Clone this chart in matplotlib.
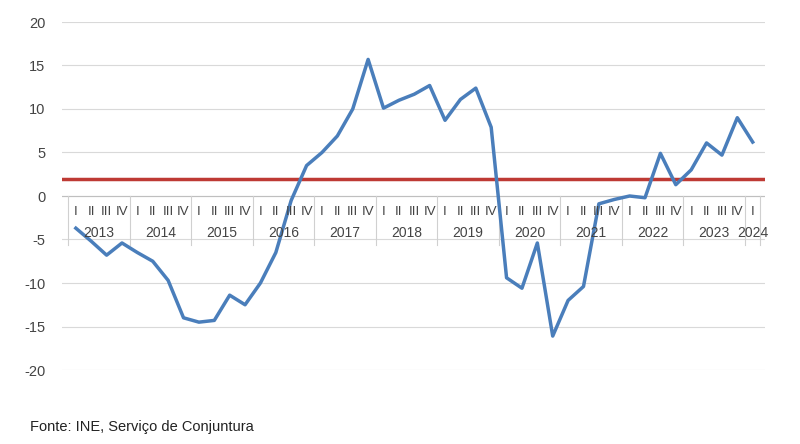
import matplotlib.pyplot as plt

plt.rcParams['font.family'] = ['Liberation Sans', 'DejaVu Sans']
plt.rcParams['axes.unicode_minus'] = False

years = list(range(2013, 2025))
quarters = ['I', 'II', 'III', 'IV']
values = [
    -3.7, -5.2, -6.8, -5.4,      # 2013
    -6.5, -7.5, -9.7, -14.0,     # 2014
    -14.5, -14.3, -11.4, -12.5,  # 2015
    -10.0, -6.5, -0.5, 3.5,      # 2016
    5.0, 6.9, 10.0, 15.7,        # 2017
    10.1, 11.0, 11.7, 12.7,      # 2018
    8.7, 11.1, 12.4, 7.9,        # 2019
    -9.4, -10.6, -5.4, -16.1,    # 2020
    -12.0, -10.4, -0.9, -0.4,    # 2021
    0.0, -0.2, 4.9, 1.3,         # 2022
    3.0, 6.1, 4.7, 9.0,          # 2023
    6.2,                         # 2024
]
reference = 2.0

fig = plt.figure(figsize=(8, 4.44), dpi=100)
ax = fig.add_axes([62 / 800, 1 - 370 / 444, (765 - 62) / 800, (370 - 22) / 444])

x = list(range(len(values)))
ax.plot(x, values, color='#4a7ebb', lw=2.5, zorder=3)
ax.axhline(reference, color='#be3a34', lw=2.5, zorder=2)

ax.set_ylim(-20, 20)
ax.set_xlim(-0.9, len(values) - 1 + 0.8)
ax.set_yticks(range(-20, 21, 5))
ax.yaxis.grid(True, color='#d9d9d9', lw=0.8)
ax.set_axisbelow(True)
ax.set_xticks([])
for s in ax.spines.values():
    s.set_visible(False)
ax.tick_params(axis='y', length=0, labelsize=10.5, colors='#444444', pad=12)

# category axis drawn along zero line
ax.axhline(0, color='#bfbfbf', lw=0.8, zorder=1)
for i, v in enumerate(values):
    ax.text(i, -1.8, quarters[i % 4], ha='center', va='center', fontsize=9.5, color='#444444')
for k, yr in enumerate(years):
    n = min(4, len(values) - 4 * k)
    ax.text(4 * k + (n - 1) / 2, -4.3, str(yr), ha='center', va='center', fontsize=10, color='#444444')
    ax.plot([4 * k - 0.5, 4 * k - 0.5], [0, -5.6], color='#d0d0d0', lw=0.8, zorder=1)
ax.plot([len(values) - 0.5] * 2, [0, -5.6], color='#d0d0d0', lw=0.8, zorder=1)

fig.text(30 / 800, 1 - 427 / 444, 'Fonte: INE, Serviço de Conjuntura', fontsize=10.5, va='center', color='#222222')

fig.savefig('out.png', dpi=100)
